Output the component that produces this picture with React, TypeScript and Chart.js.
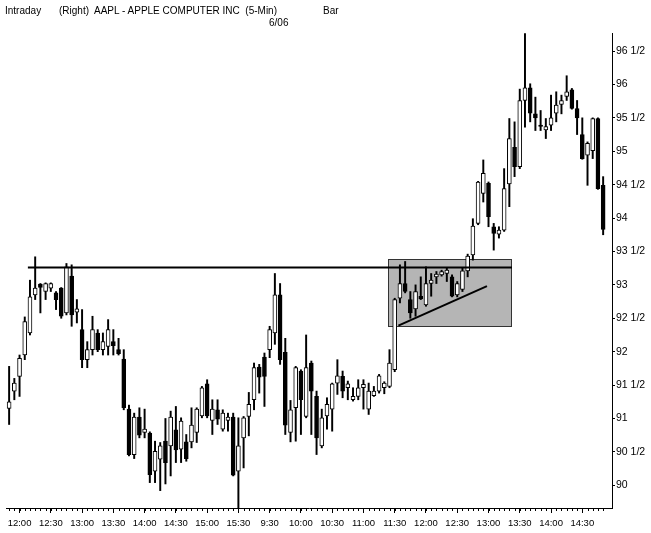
import React, { useEffect, useRef } from "react";
import { Chart, registerables } from "chart.js";

Chart.register(...registerables);

// ---- data (5-minute bars, index 0 = 11:50 day 1, index 50 = 9:30 day 2) ----
const opens = [
  91.15, 91.41, 91.63, 91.95, 92.28, 92.85, 93.01, 92.9, 92.95, 92.88,
  92.95, 92.58, 93.13, 92.59, 92.33, 91.88, 92.03, 92.28, 92.03, 92.08,
  92.15, 92.03, 91.89, 91.14, 90.46, 91.02, 90.79, 90.78, 90.21, 90.39,
  90.66, 90.59, 90.83, 90.54, 90.65, 90.65, 90.79, 91.04, 91.52, 90.97,
  91.13, 90.84, 90.97, 91.02, 90.21, 90.71, 91.03, 91.28, 91.77, 91.92,
  92.03, 92.28, 92.85, 91.99, 90.79, 91.16, 91.71, 91.03, 91.83, 91.33,
  90.59, 91.04, 91.14, 91.53, 91.63, 91.46, 91.28, 91.33, 91.46, 91.14,
  91.34, 91.41, 91.46, 91.48, 91.73, 92.8, 93.02, 92.78, 92.64, 92.83,
  92.7, 93.02, 93.12, 93.15, 93.17, 93.12, 92.85, 92.93, 93.21, 93.45,
  93.92, 94.37, 94.52, 93.87, 93.76, 93.82, 94.51, 95.06, 94.77, 95.76,
  95.95, 95.56, 95.39, 95.32, 95.39, 95.57, 95.7, 95.82, 95.92, 95.64,
  95.25, 94.94, 95.01, 95.49, 94.49,
];
const highs = [
  91.78, 91.6, 91.95, 92.52, 93.07, 93.42, 93.02, 93.03, 93.03, 92.9,
  92.96, 93.32, 93.3, 92.78, 92.63, 92.15, 92.53, 92.33, 92.28, 92.48,
  92.33, 92.2, 92.03, 91.2, 91.08, 91.16, 91.14, 90.8, 90.66, 90.64,
  91.0, 91.11, 91.18, 91.01, 90.76, 91.16, 91.16, 91.48, 91.58, 91.28,
  91.28, 91.13, 91.08, 91.08, 91.01, 91.03, 91.39, 91.83, 91.81, 91.98,
  92.38, 93.17, 93.02, 92.2, 91.27, 91.78, 91.73, 92.25, 91.86, 91.41,
  91.14, 91.31, 91.53, 91.88, 91.71, 91.56, 91.46, 91.58, 91.58, 91.53,
  91.48, 91.66, 91.55, 92.03, 92.8, 93.3, 93.35, 92.9, 93.0, 93.12,
  93.27, 93.17, 93.2, 93.22, 93.25, 93.15, 93.05, 93.25, 93.46, 93.99,
  94.55, 94.87, 94.54, 93.92, 93.87, 94.74, 95.49, 95.44, 95.93, 96.76,
  96.01, 95.81, 95.61, 95.49, 95.84, 95.89, 95.84, 96.13, 95.94, 95.76,
  95.5, 95.14, 95.5, 95.5, 94.62,
];
const lows = [
  90.91, 91.28, 91.33, 91.88, 92.25, 92.78, 92.58, 92.78, 92.9, 92.63,
  92.5, 92.55, 92.38, 92.43, 91.76, 91.76, 91.95, 92.0, 91.95, 91.95,
  91.95, 91.95, 91.13, 90.44, 90.4, 90.71, 90.71, 90.04, 90.04, 89.92,
  90.02, 90.14, 90.34, 90.34, 90.36, 90.56, 90.64, 91.01, 91.01, 90.76,
  90.91, 90.81, 90.81, 90.14, 89.64, 90.26, 90.74, 91.13, 91.38, 91.18,
  91.91, 92.11, 91.81, 90.76, 90.65, 90.66, 90.76, 91.01, 90.76, 90.46,
  90.56, 90.84, 90.81, 91.36, 91.31, 91.28, 91.26, 91.28, 91.14, 91.06,
  91.33, 91.38, 91.37, 91.46, 91.7, 92.73, 92.88, 92.5, 92.53, 92.78,
  92.68, 92.83, 93.02, 93.13, 93.05, 92.82, 92.82, 92.9, 93.12, 93.37,
  93.9, 94.24, 93.87, 93.52, 93.7, 93.8, 94.17, 94.62, 94.74, 95.36,
  95.44, 95.31, 95.31, 95.19, 95.31, 95.44, 95.56, 95.76, 95.63, 95.25,
  94.88, 94.49, 94.89, 94.43, 93.75,
];
const closes = [
  91.25, 91.53, 91.9, 92.45, 92.82, 92.95, 92.96, 93.02, 93.02, 92.78,
  92.53, 93.27, 92.55, 92.64, 91.88, 92.03, 92.33, 92.03, 92.15, 92.33,
  92.09, 91.97, 91.16, 90.46, 91.02, 90.75, 90.84, 90.16, 90.51, 90.59,
  90.34, 91.02, 90.53, 90.96, 90.4, 90.9, 91.14, 91.46, 91.04, 91.14,
  90.99, 91.08, 91.02, 90.15, 90.59, 91.01, 91.21, 91.76, 91.62, 91.63,
  92.33, 92.85, 91.88, 90.9, 91.13, 91.76, 91.28, 91.76, 91.41, 90.71,
  91.01, 91.21, 91.52, 91.64, 91.41, 91.52, 91.33, 91.46, 91.51, 91.41,
  91.41, 91.64, 91.53, 91.83, 92.78, 93.02, 92.9, 92.58, 92.9, 92.79,
  93.02, 93.07, 93.16, 93.2, 93.22, 92.83, 93.02, 93.21, 93.43, 93.88,
  94.54, 94.67, 94.02, 93.77, 93.82, 94.44, 95.19, 94.77, 95.76, 95.95,
  95.57, 95.5, 95.37, 95.37, 95.5, 95.69, 95.76, 95.89, 95.64, 95.5,
  94.89, 95.12, 95.49, 94.44, 93.83,
];

// x-axis labels (bar index where each time label sits)
const tickIndex = [2, 8, 14, 20, 26, 32, 38, 44, 50, 56, 62, 68, 74, 80, 86, 92, 98, 104, 110];
const tickLabels = [
  "12:00", "12:30", "13:00", "13:30", "14:00", "14:30", "15:00", "15:30",
  "9:30", "10:00", "10:30", "11:00", "11:30", "12:00", "12:30", "13:00", "13:30", "14:00", "14:30",
];

// y-axis labels
const yTickValues = [90, 90.5, 91, 91.5, 92, 92.5, 93, 93.5, 94, 94.5, 95, 95.5, 96, 96.5];
const yTickLabels = [
  "90", "90 1/2", "91", "91 1/2", "92", "92 1/2", "93", "93 1/2",
  "94", "94 1/2", "95", "95 1/2", "96", "96 1/2",
];

// annotations (in data units)
const resistanceLevel = 93.26;
const resistanceFrom = 3.6;
const resistanceTo = 96.5;
const boxFrom = 72.8;
const boxTo = 96.5;
const boxLow = 92.37;
const boxHigh = 93.39;
const trendFrom = [74.7, 92.39];
const trendTo = [91.7, 92.98];

const FONT_BASE = '"Liberation Sans", Arial, Helvetica, sans-serif';
const FONT_NARROW = '"Liberation Sans Narrow", "Arial Narrow", "Liberation Sans", Arial, sans-serif';

const overlayPlugin = {
  id: "overlay",
  beforeDatasetsDraw(chart: any) {
    const { ctx, scales } = chart;
    const x = scales.x;
    const y = scales.y;
    const l = Math.round(x.getPixelForValue(boxFrom));
    const r = Math.round(x.getPixelForValue(boxTo));
    const t = Math.round(y.getPixelForValue(boxHigh));
    const b = Math.round(y.getPixelForValue(boxLow));
    ctx.save();
    ctx.fillStyle = "#b5b5b5";
    ctx.fillRect(l, t, r - l, b - t);
    ctx.strokeStyle = "#333333";
    ctx.lineWidth = 1;
    ctx.strokeRect(l + 0.5, t + 0.5, r - l - 1, b - t - 1);
    ctx.restore();
  },
  afterDatasetsDraw(chart: any) {
    const { ctx, scales } = chart;
    const x = scales.x;
    const y = scales.y;
    ctx.save();
    ctx.strokeStyle = "#000000";
    ctx.lineWidth = 2;
    ctx.lineCap = "butt";
    ctx.beginPath();
    const ry = y.getPixelForValue(resistanceLevel);
    ctx.moveTo(x.getPixelForValue(resistanceFrom), ry);
    ctx.lineTo(x.getPixelForValue(resistanceTo), ry);
    ctx.stroke();
    ctx.beginPath();
    ctx.moveTo(x.getPixelForValue(trendFrom[0]), y.getPixelForValue(trendFrom[1]));
    ctx.lineTo(x.getPixelForValue(trendTo[0]), y.getPixelForValue(trendTo[1]));
    ctx.stroke();
    ctx.restore();
  },
  afterDraw(chart: any) {
    const { ctx, scales, chartArea } = chart;
    const x = scales.x;
    ctx.save();
    ctx.strokeStyle = "#000000";
    ctx.lineWidth = 1;
    ctx.beginPath();
    for (let i = 0; i < opens.length; i++) {
      const px = Math.round(x.getPixelForValue(i)) + 0.5;
      ctx.moveTo(px, chartArea.bottom);
      ctx.lineTo(px, chartArea.bottom + 3);
    }
    ctx.stroke();
    ctx.restore();
  },
};

export default function App() {
  const canvasRef = useRef<HTMLCanvasElement | null>(null);

  useEffect(() => {
    const canvas = canvasRef.current;
    if (!canvas) return;
    const wicks = opens.map((_, i) => ({ x: i, y: [lows[i], highs[i]] }));
    const bodies = opens.map((o, i) => ({
      x: i,
      y: [Math.min(o, closes[i]), Math.max(o, closes[i])],
    }));
    const bodyColors = opens.map((o, i) => (closes[i] >= o ? "#ffffff" : "#000000"));

    const chart = new Chart(canvas, {
      type: "bar",
      data: {
        datasets: [
          {
            label: "range",
            data: wicks as any,
            backgroundColor: "#000000",
            borderWidth: 0,
            barThickness: 1.3,
            grouped: false,
            order: 2,
          } as any,
          {
            label: "body",
            data: bodies as any,
            backgroundColor: bodyColors,
            borderColor: "#000000",
            borderWidth: 1,
            borderSkipped: false,
            barThickness: 4,
            grouped: false,
            order: 1,
          } as any,
        ],
      },
      options: {
        animation: false,
        responsive: false,
        devicePixelRatio: 1,
        events: [],
        layout: { padding: { top: 33, left: 6, right: 0, bottom: 0 } },
        plugins: {
          legend: { display: false },
          tooltip: { enabled: false },
          title: { display: false },
        },
        scales: {
          x: {
            type: "linear",
            min: -0.6,
            max: 115.7,
            offset: false,
            afterFit(scale: any) {
              scale.height = 25;
            },
            afterBuildTicks(scale: any) {
              scale.ticks = tickIndex.map((v) => ({ value: v }));
            },
            grid: {
              display: true,
              drawOnChartArea: false,
              drawTicks: true,
              tickLength: 5,
              color: "#000000",
              offset: false,
            },
            border: { display: true, color: "#000000", width: 1 },
            ticks: {
              autoSkip: false,
              maxRotation: 0,
              minRotation: 0,
              padding: 5,
              color: "#000000",
              font: { family: FONT_NARROW, size: 9.5 },
              callback: (v: any) => {
                const k = tickIndex.indexOf(Number(v));
                return k >= 0 ? tickLabels[k] : "";
              },
            },
          },
          y: {
            type: "linear",
            position: "right",
            min: 89.66,
            max: 96.77,
            beginAtZero: false,
            afterFit(scale: any) {
              scale.width = 39;
            },
            afterBuildTicks(scale: any) {
              scale.ticks = yTickValues.map((v) => ({ value: v }));
            },
            grid: {
              display: true,
              drawOnChartArea: false,
              drawTicks: true,
              tickLength: 3,
              color: "#000000",
            },
            border: { display: true, color: "#000000", width: 1 },
            ticks: {
              padding: 1,
              color: "#000000",
              font: { family: FONT_NARROW, size: 10.5 },
              callback: (v: any) => {
                const k = yTickValues.indexOf(Number(v));
                return k >= 0 ? yTickLabels[k] : "";
              },
            },
          },
        },
      } as any,
      plugins: [overlayPlugin as any],
    });

    return () => {
      chart.destroy();
    };
  }, []);

  const textStyle: React.CSSProperties = {
    position: "absolute",
    fontFamily: FONT_BASE,
    fontSize: "10px",
    lineHeight: "10px",
    color: "#000000",
    whiteSpace: "pre",
  };

  return (
    <div
      style={{
        position: "absolute",
        left: 0,
        top: 0,
        width: 651,
        height: 533,
        background: "#ffffff",
        overflow: "hidden",
      }}
    >
      <canvas ref={canvasRef} width={651} height={533} style={{ display: "block", width: 651, height: 533 }} />
      <div style={{ ...textStyle, left: 5, top: 6 }}>Intraday</div>
      <div style={{ ...textStyle, left: 59, top: 6 }}>(Right)  AAPL - APPLE COMPUTER INC  (5-Min)</div>
      <div style={{ ...textStyle, left: 323, top: 6 }}>Bar</div>
      <div style={{ ...textStyle, left: 269, top: 17.5 }}>6/06</div>
    </div>
  );
}
